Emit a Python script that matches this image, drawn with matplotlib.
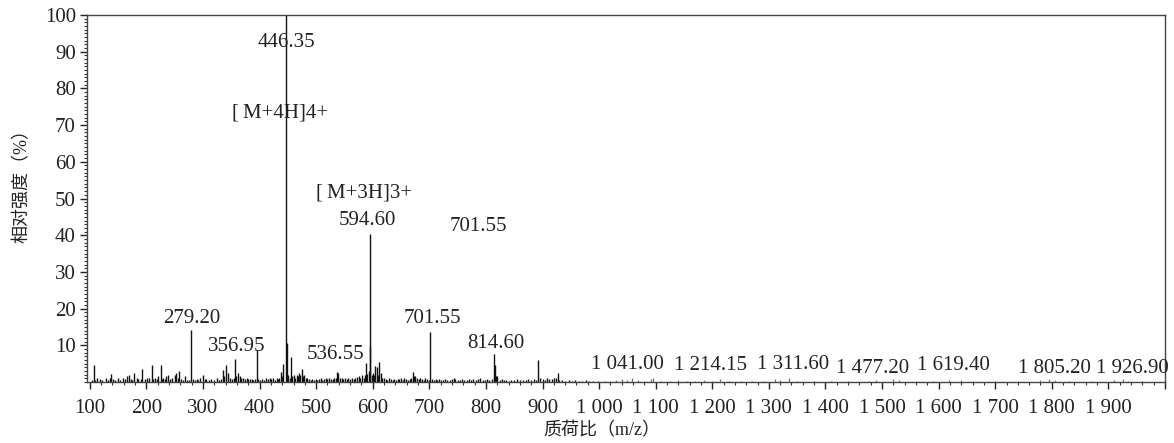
import matplotlib
matplotlib.use("Agg")
import matplotlib.pyplot as plt
from matplotlib.ticker import MultipleLocator, FixedLocator

plt.rcParams['font.family'] = ['Liberation Serif', 'Noto Sans CJK SC']

# ---- data: peaks (m/z, relative intensity %) ----
mz_low = [103, 107, 110, 113, 118, 122, 128, 132, 135, 138, 141, 145, 150, 154, 159, 162, 165, 169, 172, 175,
          178, 183, 186, 190, 193, 197, 201, 205, 209, 212, 215, 218, 220, 225, 228, 230, 233, 235, 239, 242,
          245, 250, 253, 256, 258, 261, 264, 268, 272, 276, 279.2, 283, 286, 289, 292, 295, 300, 303, 306, 310,
          315, 319, 324, 328, 332, 335, 338, 340, 344, 348, 351, 354, 356.95, 359, 362, 365, 368, 371, 374, 377,
          380, 383, 386, 389, 392, 395.6, 398, 401, 404, 408, 412, 415, 418, 421, 424, 427, 430, 433, 435, 437.5,
          440, 442]
int_low = [0.5, 4.7, 0.6, 1.0, 0.8, 0.5, 1.0, 0.6, 1.2, 2.2, 0.7, 0.5, 1.0, 0.6, 1.2, 0.7, 1.5, 1.8, 0.8, 0.6,
           2.5, 1.2, 0.7, 0.9, 3.6, 0.8, 1.0, 1.2, 4.7, 0.9, 1.2, 0.7, 1.5, 4.6, 0.9, 1.2, 0.8, 1.5, 1.8, 0.9,
           1.0, 1.8, 2.5, 1.2, 2.9, 0.8, 0.6, 1.5, 0.5, 0.6, 14.2, 0.8, 0.5, 0.8, 0.6, 1.0, 2.0, 0.7, 0.8, 0.5,
           0.8, 0.5, 1.0, 0.6, 0.8, 3.3, 1.5, 4.5, 2.5, 1.2, 0.9, 1.0, 6.3, 1.5, 2.5, 1.5, 1.1, 1.0, 0.9, 1.0,
           0.8, 0.7, 0.9, 0.6, 0.8, 8.8, 0.9, 0.6, 0.8, 0.5, 1.0, 0.7, 1.2, 0.8, 1.0, 0.6, 1.2, 0.7, 1.0, 2.8,
           1.5, 4.9]

mz_mid = [446.35, 448, 451, 453, 455, 458, 460, 463, 466, 468, 470, 472, 475, 477, 479, 482, 484, 487, 490, 493,
          496, 499, 502, 505, 508, 511, 514, 517, 520, 523, 526, 529, 532, 535, 537, 539, 542, 545, 548, 551,
          554, 557, 560, 563, 566, 569, 572, 575, 578, 581, 584, 586, 588, 590, 593, 594.6, 596, 598, 600, 602,
          604, 607, 609, 611, 614, 617, 620, 623, 626, 629, 632, 635, 638, 641, 644, 647, 650, 653, 656, 659,
          662, 665, 668, 671, 673, 675, 678, 681, 684, 687, 690, 693, 696, 699, 701.55, 705, 708, 711, 714, 717,
          720]
int_mid = [100, 10.6, 2.0, 1.2, 6.9, 1.5, 2.0, 1.2, 2.0, 1.5, 2.5, 1.8, 3.5, 1.5, 2.0, 1.0, 1.2, 0.8, 0.6, 0.9,
           0.5, 0.8, 0.6, 0.7, 1.0, 0.6, 0.8, 1.0, 0.7, 1.2, 0.8, 0.9, 1.0, 1.2, 2.8, 2.5, 1.0, 1.2, 0.8, 1.0,
           0.7, 1.0, 0.8, 1.2, 0.9, 1.0, 1.3, 1.5, 1.0, 1.8, 1.2, 2.0, 5.3, 2.2, 3.0, 40.3, 9.8, 2.0, 2.5, 1.8,
           4.4, 4.2, 2.0, 5.5, 2.5, 1.2, 1.0, 0.8, 0.6, 1.0, 0.7, 0.5, 0.8, 0.6, 0.9, 0.7, 1.0, 0.6, 1.2, 0.8,
           0.6, 0.9, 1.0, 2.8, 1.5, 1.5, 1.0, 0.8, 1.2, 0.7, 0.6, 1.0, 0.8, 0.6, 13.7, 0.8, 0.6, 0.8, 0.5, 0.7,
           0.5]

mz_high = [724, 728, 732, 736, 740, 743, 746, 750, 754, 758, 762, 766, 770, 774, 778, 782, 786, 790, 794, 798,
           802, 806, 810, 814.6, 816, 818, 820, 824, 828, 832, 836, 840, 845, 850, 855, 860, 865, 870, 875, 880,
           885, 889, 892, 896, 900, 904, 908, 912, 916, 920, 923, 926.5, 930, 935, 940, 946, 952, 958, 964, 970,
           976, 982, 990, 998]
int_high = [0.6, 0.8, 0.5, 0.6, 0.8, 1.2, 0.7, 0.5, 0.6, 0.8, 0.5, 0.6, 0.7, 0.5, 0.8, 0.6, 0.7, 1.0, 0.6, 0.5,
            0.8, 0.6, 0.9, 7.7, 4.6, 1.5, 1.5, 0.6, 0.8, 0.5, 0.6, 0.4, 0.6, 0.5, 0.7, 0.5, 0.6, 0.5, 0.7, 0.6,
            0.8, 0.6, 6.1, 1.2, 0.8, 0.6, 1.0, 0.7, 0.8, 1.2, 1.0, 2.5, 0.6, 0.5, 0.4, 0.6, 0.4, 0.5, 0.4, 0.3,
            0.5, 0.4, 0.3, 0.4]

mz_tail = [1010, 1020, 1030, 1041, 1050, 1059, 1068, 1080, 1092, 1095, 1110, 1125, 1140, 1155, 1170, 1185, 1200,
           1214, 1230, 1250, 1270, 1290, 1311, 1320, 1335, 1350, 1380, 1410, 1440, 1477, 1490, 1520, 1530, 1560,
           1590, 1619, 1640, 1660, 1700, 1740, 1780, 1795, 1805, 1830, 1870, 1910, 1926, 1935, 1960]
int_tail = [0.3, 0.4, 0.5, 0.8, 0.6, 1.0, 0.5, 0.4, 0.8, 1.0, 0.3, 0.4, 0.5, 0.3, 0.4, 0.6, 0.4,
            0.8, 0.3, 0.4, 0.3, 0.4, 0.8, 0.6, 1.0, 0.3, 0.3, 0.3, 0.4, 0.4, 0.5, 0.7, 0.5, 0.3,
            0.3, 0.6, 0.5, 0.3, 0.3, 0.3, 0.5, 0.8, 0.5, 0.3, 0.3, 0.5, 0.8, 0.4, 0.3]

# ---- annotations: text, m/z position, intensity position ----
ann_text = ["446.35", "[\u2009M+4H]4+", "[\u2009M+3H]3+", "594.60", "701.55", "279.20", "356.95", "536.55",
            "701.55", "814.60", "1 041.00", "1 214.15", "1 311.60", "1 477.20", "1 619.40",
            "1 805.20", "1 926.90"]
ann_x = [447, 436, 584, 591, 786, 281, 359, 534, 705, 817, 1050, 1196, 1342, 1484, 1626, 1805, 1943]
ann_y = [92.4, 73.3, 51.5, 44.1, 42.5, 17.4, 9.8, 7.4, 17.4, 10.6, 4.9, 4.4, 4.9, 3.8, 4.4, 3.8, 3.8]

x_ticks = [100, 200, 300, 400, 500, 600, 700, 800, 900, 1000, 1100, 1200, 1300, 1400, 1500,
           1600, 1700, 1800, 1900, 2000]
x_tick_labels = ["100", "200", "300", "400", "500", "600", "700", "800", "900", "1 000", "1 100",
                 "1 200", "1 300", "1 400", "1 500", "1 600", "1 700", "1 800", "1 900", ""]
y_ticks = [10, 20, 30, 40, 50, 60, 70, 80, 90, 100]

fig = plt.figure(figsize=(11.74, 4.43), dpi=100)
ax = fig.add_axes([0.0741, 0.1377, 0.9182, 0.8284])

ax.vlines(mz_low, 0, int_low, color='#111111', lw=1.0)
ax.vlines(mz_mid, 0, int_mid, color='#111111', lw=1.0)
ax.vlines(mz_high, 0, int_high, color='#111111', lw=1.0)
ax.vlines(mz_tail, 0, int_tail, color='#777777', lw=0.9)

for t, xx, yy in zip(ann_text, ann_x, ann_y):
    ax.text(xx, yy, t, ha='center', va='center', fontsize=15, color='#222222')

ax.set_xlim(95, 2000)
ax.set_ylim(0, 100)
ax.xaxis.set_major_locator(FixedLocator(x_ticks))
ax.set_xticklabels(x_tick_labels)
ax.xaxis.set_minor_locator(MultipleLocator(20))
ax.yaxis.set_major_locator(FixedLocator(y_ticks))
ax.yaxis.set_minor_locator(MultipleLocator(1))
ax.tick_params(axis='both', which='major', direction='out', length=5, width=1.0,
               labelsize=15, colors='#222222', pad=3)
ax.tick_params(axis='x', which='major', pad=7)
ax.tick_params(axis='both', which='minor', direction='out', length=2.5, width=0.8, colors='#333333')

for s in ax.spines.values():
    s.set_color('#444444')
    s.set_linewidth(1.0)

ax.set_xlabel("质荷比（m/z）", fontsize=13, color='#222222')
ax.xaxis.set_label_coords(0.478, -0.108)
ax.set_ylabel("相对强度（%）", fontsize=13, color='#222222')
ax.yaxis.set_label_coords(-0.052, 0.545)

fig.savefig("out.png", dpi=100)
